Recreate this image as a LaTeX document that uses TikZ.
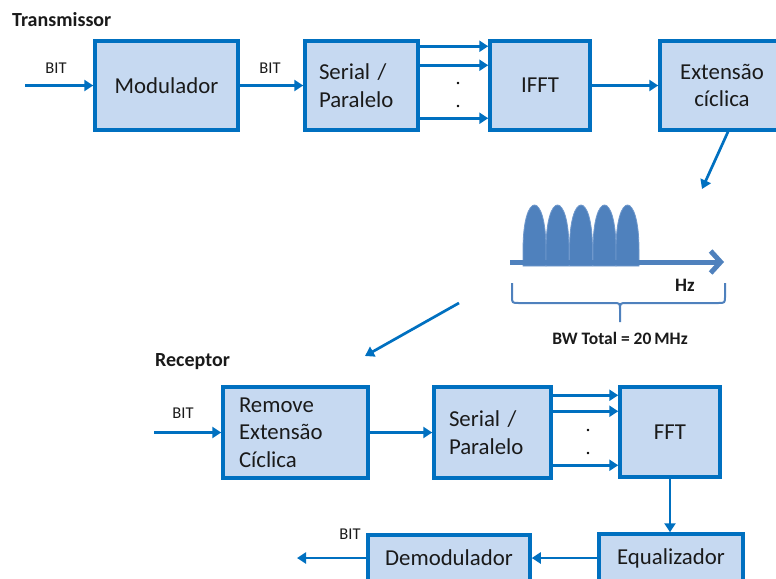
\documentclass[tikz,border=0pt]{standalone}
\usepackage{fontspec}
\setmainfont{Carlito}
\usetikzlibrary{arrows.meta,calc}
\definecolor{boxline}{HTML}{0070C0}
\definecolor{boxfill}{HTML}{C6D9F1}
\definecolor{specblue}{HTML}{4F81BD}
\definecolor{speclight}{HTML}{6F98CC}
\definecolor{ink}{HTML}{1A1A1A}

\begin{document}
\begin{tikzpicture}[x=1pt,y=-1pt,
  block/.style={draw=boxline, fill=boxfill, line width=3.5pt, inner sep=0pt,
    font=\fontsize{22.8}{27.5}\selectfont, text=ink},
  flow/.style={draw=boxline, line width=2.7pt, -{Triangle[length=9pt,width=11pt]}},
  bitlabel/.style={font=\fontsize{16.5}{20}\selectfont, text=ink, inner sep=0pt},
  heading/.style={font=\bfseries\fontsize{20}{24}\selectfont, text=ink, inner sep=0pt, anchor=west},
  dotmark/.style={circle, fill=black, inner sep=0pt, minimum size=2.8pt},
  lobe/.style={fill=specblue, draw=speclight, line width=0.8pt},
]
\useasboundingbox (0,0) rectangle (776,578);
\clip (0,0) rectangle (776,578);

% ---------------- transmitter chain ----------------
\node[heading] (tx) at (12,20) {Transmissor};

\node[block, minimum width=143pt, minimum height=89pt] (mod) at (166.5,85.5) {Modulador};
\node[block, minimum width=113pt, minimum height=89pt, text width=85pt, inner xsep=14pt, align=left]
  (sp1) at (361.5,85.5) {Serial /\\Paralelo};
\node[block, minimum width=100pt, minimum height=89pt] (ifft) at (540,85.5) {IFFT};
\node[block, minimum width=124pt, minimum height=89pt, align=center] (ext) at (722,85.5) {Extensão\\cíclica};

\coordinate (in1) at (25,85.5);
\draw[flow] (in1) -- (mod);
\node[bitlabel] (bit1) at (56,68) {BIT};
\draw[flow] (mod) -- (sp1);
\node[bitlabel] (bit2) at (270,68) {BIT};

\foreach \dy in {7,26,79}
  \draw[flow] ($(sp1.north east)+(0,\dy)$) -- ($(ifft.north west)+(0,\dy)$);
\node[dotmark] (tdot1) at (458,83) {};
\node[dotmark] (tdot2) at (458,106) {};

\draw[flow] (ifft) -- (ext);

\coordinate (specin) at (702,189);
\draw[flow] ($(ext.south)+(6,0)$) -- (specin);

% ---------------- spectrum sketch ----------------
\foreach \a in {523,546,569.5,593,616}
  \filldraw[lobe] (\a,266) -- (\a,250) .. controls (\a,190) and (\a+23,190) .. (\a+23,250) -- (\a+23,266) -- cycle;

\coordinate (axisL) at (510,262);
\coordinate (axisR) at (724,262);
\draw[specblue, line width=5pt, -{Straight Barb[length=10pt,width=22pt]}] (axisL) -- (axisR);
\node[font=\bfseries\fontsize{19}{22}\selectfont, text=ink] (hz) at (685,285) {Hz};

\draw[specblue, line width=2pt]
  (512,283) -- (512,296) .. controls (512,303) .. (519,303) -- (613,303)
  .. controls (620,303) .. (620,310) -- (620,322) -- (620,310)
  .. controls (620,303) .. (627,303) -- (718,303)
  .. controls (725,303) .. (725,296) -- (725,283);
\node[font=\bfseries\fontsize{17.5}{20}\selectfont, text=ink] (bw) at (620,338) {BW Total = 20\,MHz};

\coordinate (specout) at (459,303);
\coordinate (rxin) at (365,356);
\draw[flow] (specout) -- (rxin);

% ---------------- receiver chain ----------------
\node[heading] (rx) at (155,362) {Receptor};

\node[block, minimum width=145pt, minimum height=91pt, text width=113pt, inner xsep=16pt, align=left]
  (rem) at (295.5,432.5) {Remove\\Extensão\\Cíclica};
\node[block, minimum width=117pt, minimum height=91pt, text width=87pt, inner xsep=15pt, align=left]
  (sp2) at (492.5,432.5) {Serial /\\Paralelo};
\node[block, minimum width=100pt, minimum height=90pt] (fft) at (670,432) {FFT};
\node[block, minimum width=144pt, minimum height=48pt] (eq) at (671,558) {Equalizador};
\node[block, minimum width=162pt, minimum height=46pt] (dem) at (449,558) {Demodulador};

\coordinate (in2) at (154,432.5);
\draw[flow] (in2) -- (rem);
\node[bitlabel] (bit3) at (183,413) {BIT};
\draw[flow] (rem) -- (sp2);

\foreach \dy in {10,26,80}
  \draw[flow] ($(sp2.north east)+(0,\dy)$) -- ($(fft.north west |- sp2.north east)+(0,\dy)$);
\node[dotmark] (rdot1) at (588,430) {};
\node[dotmark] (rdot2) at (588,453) {};

\draw[flow] (fft.south) -- (fft.south |- eq.north);
\draw[flow] (eq) -- (dem);

\coordinate (out2) at (297,558);
\draw[flow] (dem) -- (out2);
\node[bitlabel] (bit4) at (350,534) {BIT};
\end{tikzpicture}
\end{document}
